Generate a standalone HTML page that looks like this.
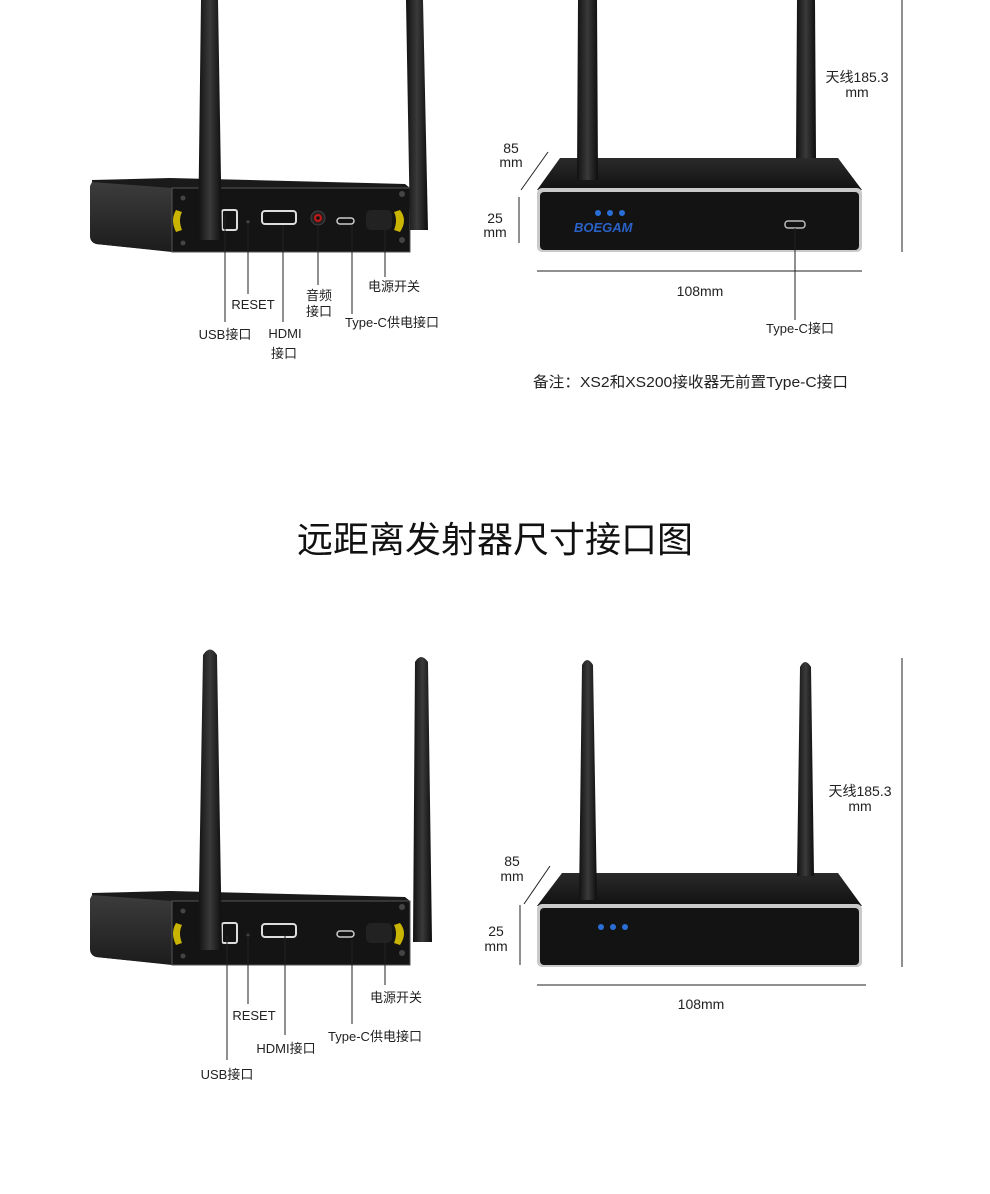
<!DOCTYPE html>
<html><head><meta charset="utf-8"><style>
html,body{margin:0;padding:0;background:#fff}
svg text{font-family:"Liberation Sans","Noto Sans CJK SC",sans-serif;fill:#222}
</style></head><body>
<svg width="990" height="1189" viewBox="0 0 990 1189" xmlns="http://www.w3.org/2000/svg">
<defs>
<linearGradient id="ant" x1="0" x2="1"><stop offset="0" stop-color="#111"/><stop offset=".5" stop-color="#3a3a3a"/><stop offset="1" stop-color="#0d0d0d"/></linearGradient>
<linearGradient id="side" x1="0" y1="0" x2="0" y2="1"><stop offset="0" stop-color="#3c3c3c"/><stop offset="1" stop-color="#1c1c1c"/></linearGradient>
<linearGradient id="topf" x1="0" y1="0" x2="0" y2="1"><stop offset="0" stop-color="#2a2a2a"/><stop offset="1" stop-color="#111"/></linearGradient>
<g id="ldev">
<path d="M92 0 L170 -2 L405 4 L410 8 L410 70 L175 72 L96 64 Z" fill="#1a1a1a"/>
<path d="M92 2 L172 8 L172 72 L96 64 Q90 62 90 56 L90 6 Z" fill="url(#side)"/>
<rect x="172" y="8" width="238" height="64" fill="#141414" stroke="#555" stroke-width="1"/>
<path d="M176 30 Q170 40 176 52 L182 50 Q178 40 182 32 Z" fill="#c9b400"/>
<path d="M400 30 Q408 40 400 52 L394 50 Q398 40 394 32 Z" fill="#c9b400"/>
<rect x="366" y="30" width="26" height="20" rx="5" fill="#222"/>
<circle cx="183" cy="18" r="2.5" fill="#444"/><circle cx="183" cy="63" r="2.5" fill="#444"/>
<circle cx="402" cy="14" r="3" fill="#444"/><circle cx="402" cy="60" r="3" fill="#444"/>
<rect x="222" y="30" width="15" height="20" rx="2" fill="none" stroke="#ddd" stroke-width="2"/>
<circle cx="248" cy="42" r="1.5" fill="#555"/>
<rect x="262" y="31" width="34" height="13" rx="3" fill="#111" stroke="#ddd" stroke-width="2"/>
<rect x="337" y="38" width="17" height="6" rx="3" fill="#111" stroke="#ccc" stroke-width="1.5"/>
</g>
</defs>

<use href="#ldev" transform="translate(0,180)"/>
<circle cx="318" cy="218" r="7" fill="#222" stroke="#444"/><circle cx="318" cy="218" r="4" fill="#c01818"/><circle cx="318" cy="218" r="1.8" fill="#111"/>
<path d="M201 0 L218 0 L222 240 L198 240 Z" fill="url(#ant)"/>
<path d="M406 0 L423 0 L428 230 L410 230 Z" fill="url(#ant)"/>

<g stroke="#222" stroke-width="1">
<line x1="225" y1="215" x2="225" y2="322"/>
<line x1="248" y1="222" x2="248" y2="294"/>
<line x1="283" y1="225" x2="283" y2="322"/>
<line x1="318" y1="225" x2="318" y2="285"/>
<line x1="352" y1="225" x2="352" y2="314"/>
<line x1="385" y1="218" x2="385" y2="277"/>
</g>
<g font-size="13" text-anchor="middle">
<text x="253" y="309">RESET</text>
<text x="225" y="339">USB接口</text>
<text x="285" y="338">HDMI</text><text x="284" y="358">接口</text>
<text x="319" y="300">音频</text><text x="319" y="316">接口</text>
<text x="392" y="327">Type-C供电接口</text>
<text x="394" y="291">电源开关</text>
</g>

<path d="M560 158 L838 158 L862 190 L537 190 Z" fill="url(#topf)"/>
<rect x="537" y="188" width="325" height="64" rx="5" fill="#c9c9c9"/>
<rect x="540" y="192" width="319" height="58" rx="4" fill="#131313"/>
<path d="M578 0 L597 0 L598 180 L577 180 Z" fill="url(#ant)"/>
<path d="M797 0 L815 0 L816 158 L796 158 Z" fill="url(#ant)"/>
<circle cx="598" cy="213" r="3" fill="#2a6fd8"/><circle cx="610" cy="213" r="3" fill="#2a6fd8"/><circle cx="622" cy="213" r="3" fill="#2a6fd8"/>
<text x="574" y="232" font-size="13" font-style="italic" font-weight="bold" style="fill:#2a62c8">BOEGAM</text>
<rect x="785" y="221" width="20" height="7" rx="3" fill="#111" stroke="#bbb" stroke-width="1.5"/>
<g stroke="#222" stroke-width="1">
<line x1="902" y1="0" x2="902" y2="252"/>
<line x1="521" y1="190" x2="548" y2="152"/>
<line x1="519" y1="197" x2="519" y2="243"/>
<line x1="537" y1="271" x2="862" y2="271"/>
<line x1="795" y1="228" x2="795" y2="320"/>
</g>
<g font-size="14" text-anchor="middle">
<text x="857" y="82">天线185.3</text><text x="857" y="97">mm</text>
<text x="511" y="153">85</text><text x="511" y="167">mm</text>
<text x="495" y="223">25</text><text x="495" y="237">mm</text>
<text x="700" y="296">108mm</text>
<text x="800" y="333" font-size="13">Type-C接口</text>
</g>
<text x="533" y="387" font-size="15" textLength="315" lengthAdjust="spacingAndGlyphs">备注：XS2和XS200接收器无前置Type-C接口</text>

<text x="495" y="552" font-size="36" text-anchor="middle" style="fill:#111">远距离发射器尺寸接口图</text>

<use href="#ldev" transform="translate(0,893)"/>
<path d="M203 655 Q210 644 217 655 L222 950 L198 950 Z" fill="url(#ant)"/>
<path d="M415 662 Q421 652 428 662 L432 942 L413 942 Z" fill="url(#ant)"/>
<g stroke="#222" stroke-width="1">
<line x1="227" y1="935" x2="227" y2="1060"/>
<line x1="248" y1="932" x2="248" y2="1004"/>
<line x1="285" y1="935" x2="285" y2="1035"/>
<line x1="352" y1="940" x2="352" y2="1024"/>
<line x1="385" y1="930" x2="385" y2="985"/>
</g>
<g font-size="13" text-anchor="middle">
<text x="396" y="1002">电源开关</text>
<text x="254" y="1020">RESET</text>
<text x="375" y="1041">Type-C供电接口</text>
<text x="286" y="1053">HDMI接口</text>
<text x="227" y="1079">USB接口</text>
</g>

<path d="M562 873 L838 873 L862 906 L537 906 Z" fill="url(#topf)"/>
<rect x="537" y="904" width="325" height="63" rx="5" fill="#c9c9c9"/>
<rect x="540" y="908" width="319" height="57" rx="4" fill="#131313"/>
<path d="M582 665 Q587 655 593 665 L597 900 L579 900 Z" fill="url(#ant)"/>
<path d="M800 667 Q805 657 811 667 L814 876 L797 876 Z" fill="url(#ant)"/>
<circle cx="601" cy="927" r="3" fill="#2a6fd8"/><circle cx="613" cy="927" r="3" fill="#2a6fd8"/><circle cx="625" cy="927" r="3" fill="#2a6fd8"/>
<g stroke="#222" stroke-width="1">
<line x1="902" y1="658" x2="902" y2="967"/>
<line x1="524" y1="904" x2="550" y2="866"/>
<line x1="520" y1="905" x2="520" y2="965"/>
<line x1="537" y1="985" x2="866" y2="985"/>
</g>
<g font-size="14" text-anchor="middle">
<text x="860" y="796">天线185.3</text><text x="860" y="811">mm</text>
<text x="512" y="866">85</text><text x="512" y="881">mm</text>
<text x="496" y="936">25</text><text x="496" y="951">mm</text>
<text x="701" y="1009">108mm</text>
</g>
</svg>
</body></html>
